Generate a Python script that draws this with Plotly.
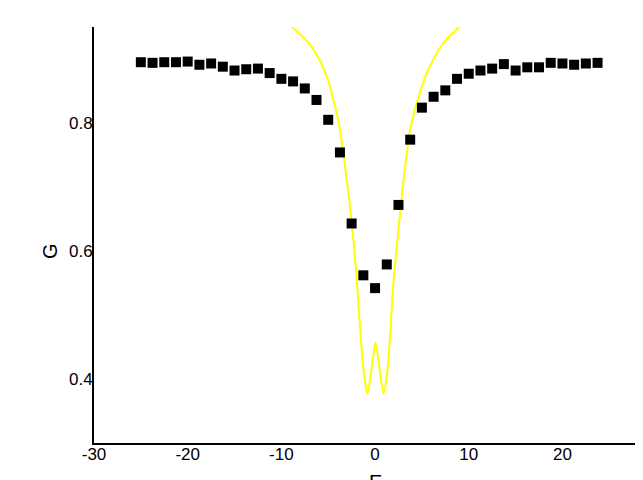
import plotly.graph_objects as go

# measured points (black squares)
e_meas = [-25, -23.75, -22.5, -21.25, -20, -18.75, -17.5, -16.25, -15, -13.75,
          -12.5, -11.25, -10, -8.75, -7.5, -6.25, -5, -3.75, -2.5, -1.25,
          0, 1.25, 2.5, 3.75, 5, 6.25, 7.5, 8.75, 10, 11.25,
          12.5, 13.75, 15, 16.25, 17.5, 18.75, 20, 21.25, 22.5, 23.75]
g_meas = [0.895, 0.894, 0.895, 0.895, 0.896, 0.891, 0.893, 0.888, 0.882, 0.884,
          0.885, 0.878, 0.869, 0.865, 0.854, 0.836, 0.805, 0.754, 0.643, 0.562,
          0.542, 0.579, 0.672, 0.774, 0.824, 0.841, 0.851, 0.869, 0.877, 0.882,
          0.885, 0.892, 0.882, 0.887, 0.887, 0.894, 0.893, 0.891, 0.893, 0.894]

# model curve (yellow)
e_fit = [-10.5, -8.78, -7.6, -6.58, -5.16, -4.27, -3.74, -3.2, -2.67, -2.24,
         -1.89, -1.53, -1.17, -0.82, -0.35, 0.05, 0.46, 0.9, 1.27, 1.6,
         1.92, 2.32, 2.74, 3.2, 3.74, 4.45, 5.52, 7.29, 8.89, 10.5]
g_fit = [0.975, 0.949, 0.933, 0.915, 0.873, 0.826, 0.789, 0.731, 0.669, 0.606,
         0.543, 0.465, 0.407, 0.377, 0.418, 0.457, 0.418, 0.377, 0.407, 0.465,
         0.543, 0.606, 0.669, 0.731, 0.789, 0.831, 0.878, 0.925, 0.949, 0.975]

# tick labels (plain hyphen, as in the original)
x_ticks = [-30, -20, -10, 0, 10, 20]
x_ticktext = ["-30", "-20", "-10", "0", "10", "20"]
y_ticks = [0.4, 0.6, 0.8]
y_ticktext = ["0.4", "0.6", "0.8"]

_FONT = "Arial, Liberation Sans, sans-serif"

fig = go.Figure()
fig.add_trace(go.Scatter(
    x=e_fit, y=g_fit, mode="lines",
    line=dict(color="#ffff00", width=2, shape="spline", smoothing=0.8),
    showlegend=False,
))
fig.add_trace(go.Scatter(
    x=e_meas, y=g_meas, mode="markers",
    marker=dict(symbol="square", size=10, color="black", line=dict(width=0)),
    showlegend=False,
))

# x title is clipped at the bottom edge like in the original
fig.update_layout(
    width=635, height=472,
    paper_bgcolor="white", plot_bgcolor="white",
    font=dict(family=_FONT, color="black", size=17),
    margin=dict(l=86, r=0, t=19, b=37, autoexpand=False),
    showlegend=False,
)
fig.update_xaxes(
    range=[-30, 28.6], tickvals=x_ticks, ticktext=x_ticktext,
    showline=True, linecolor="black", linewidth=2,
    showgrid=False, zeroline=False, ticks="", ticklabelstandoff=-5,
)
fig.update_yaxes(
    range=[0.3, 0.95], tickvals=y_ticks, ticktext=y_ticktext,
    showline=True, linecolor="black", linewidth=2,
    showgrid=False, zeroline=False, ticks="", ticklabelstandoff=-4,
)

# axis titles placed as annotations
fig.add_annotation(text="G", xref="paper", x=0, yref="y", y=0.6,
                   xanchor="center", xshift=-44, textangle=-90,
                   showarrow=False, font=dict(size=20))
fig.add_annotation(text="E", xref="x", x=0, yref="paper", y=0,
                   yanchor="top", yshift=-26, showarrow=False,
                   font=dict(size=20))

fig.write_html("out.html")
